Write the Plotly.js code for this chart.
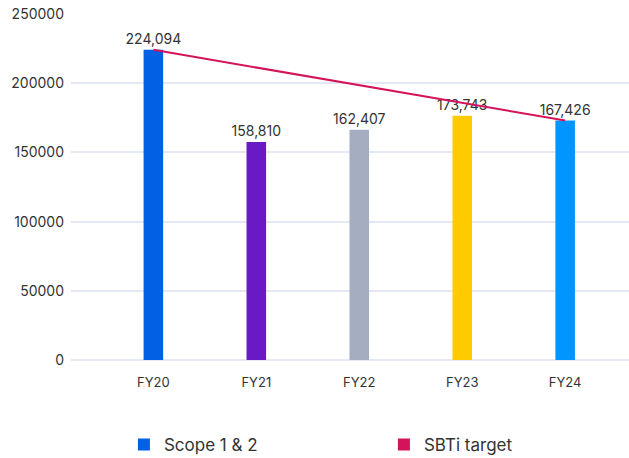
<!DOCTYPE html>
<html>
<head>
<meta charset="utf-8">
<script src="https://cdn.plot.ly/plotly-3.0.1.min.js"></script>
<style>html,body{margin:0;padding:0;background:#fff;}#chart{width:629px;height:458px;}</style>
</head>
<body>
<div id="chart"></div>
<script>
// Data
const categories = ['FY20', 'FY21', 'FY22', 'FY23', 'FY24'];
const scopeValues = [224094, 157500, 166300, 176400, 173000];   // bar heights as drawn
const scopeLabels = ['224,094', '158,810', '162,407', '173,743', '167,426']; // printed labels
const barColors = ['#0061E4', '#6A1AC5', '#A4AEC0', '#FFCB00', '#0095FF'];
const targetCategories = ['FY20', 'FY24'];
const targetValues = [224094, 173000];
const tickVals = [0, 50000, 100000, 150000, 200000, 250000];

const fontFam = 'Inter, "Open Sans", sans-serif';

const traces = [
  {
    type: 'bar',
    name: 'Scope 1 & 2',
    x: categories,
    y: scopeValues,
    text: scopeLabels,
    textposition: 'outside',
    constraintext: 'none',
    cliponaxis: false,
    textfont: {family: fontFam, size: 14, color: '#333333'},
    marker: {color: barColors},
    width: 0.19,
    hoverinfo: 'x+y'
  },
  {
    type: 'scatter',
    mode: 'lines',
    name: 'SBTi target',
    x: targetCategories,
    y: targetValues,
    line: {color: '#D4145A', width: 2},
    showlegend: false
  },
  {
    type: 'bar',
    name: 'SBTi target',
    x: [categories[0]],
    y: [null],
    marker: {color: '#D4145A'},
    showlegend: true,
    hoverinfo: 'skip'
  }
];

const layout = {
  width: 629,
  height: 458,
  margin: {l: 71, r: 0, t: 14, b: 98, autoexpand: false},
  paper_bgcolor: '#ffffff',
  plot_bgcolor: '#ffffff',
  barmode: 'overlay',
  font: {family: fontFam, color: '#333333'},
  xaxis: {
    type: 'category',
    range: [-0.8, 4.62],
    showgrid: false,
    zeroline: false,
    showline: false,
    ticks: '',
    tickfont: {family: fontFam, size: 13, color: '#333333'},
    ticklabelstandoff: 13
  },
  yaxis: {
    range: [0, 250000],
    tickvals: tickVals,
    ticktext: tickVals.map(String),
    showgrid: true,
    gridcolor: '#E4E8F4',
    gridwidth: 2,
    zeroline: true,
    zerolinecolor: '#E4E8F4',
    zerolinewidth: 2,
    showline: false,
    ticks: '',
    tickfont: {family: fontFam, size: 14, color: '#333333'},
    ticklabelstandoff: 6
  },
  showlegend: true,
  legend: {
    orientation: 'h',
    xref: 'container',
    yref: 'container',
    x: 0.197,
    xanchor: 'left',
    y: 0.068,
    yanchor: 'top',
    entrywidth: 215,
    font: {family: fontFam, size: 17, color: '#333333'},
    traceorder: 'normal'
  }
};

Plotly.newPlot('chart', traces, layout, {displayModeBar: false, staticPlot: true});
</script>
</body>
</html>
